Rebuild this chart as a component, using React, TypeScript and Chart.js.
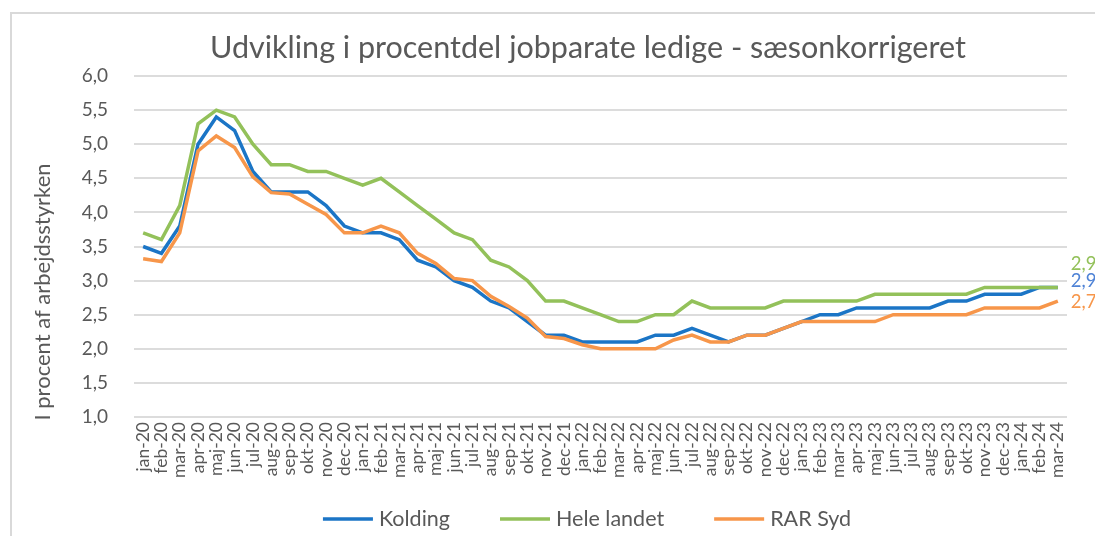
import React, { useEffect, useRef } from "react";
import { Chart, registerables } from "chart.js";

Chart.register(...registerables);

const months = [
  "jan-20", "feb-20", "mar-20", "apr-20", "maj-20", "jun-20", "jul-20", "aug-20", "sep-20", "okt-20", "nov-20", "dec-20",
  "jan-21", "feb-21", "mar-21", "apr-21", "maj-21", "jun-21", "jul-21", "aug-21", "sep-21", "okt-21", "nov-21", "dec-21",
  "jan-22", "feb-22", "mar-22", "apr-22", "maj-22", "jun-22", "jul-22", "aug-22", "sep-22", "okt-22", "nov-22", "dec-22",
  "jan-23", "feb-23", "mar-23", "apr-23", "maj-23", "jun-23", "jul-23", "aug-23", "sep-23", "okt-23", "nov-23", "dec-23",
  "jan-24", "feb-24", "mar-24",
];

const kolding = [
  3.5, 3.4, 3.8, 5.0, 5.4, 5.2, 4.6, 4.3, 4.3, 4.3, 4.1, 3.8,
  3.7, 3.7, 3.6, 3.3, 3.2, 3.0, 2.9, 2.7, 2.6, 2.4, 2.2, 2.2,
  2.1, 2.1, 2.1, 2.1, 2.2, 2.2, 2.3, 2.2, 2.1, 2.2, 2.2, 2.3,
  2.4, 2.5, 2.5, 2.6, 2.6, 2.6, 2.6, 2.6, 2.7, 2.7, 2.8, 2.8,
  2.8, 2.9, 2.9,
];

const heleLandet = [
  3.7, 3.6, 4.1, 5.3, 5.5, 5.4, 5.0, 4.7, 4.7, 4.6, 4.6, 4.5,
  4.4, 4.5, 4.3, 4.1, 3.9, 3.7, 3.6, 3.3, 3.2, 3.0, 2.7, 2.7,
  2.6, 2.5, 2.4, 2.4, 2.5, 2.5, 2.7, 2.6, 2.6, 2.6, 2.6, 2.7,
  2.7, 2.7, 2.7, 2.7, 2.8, 2.8, 2.8, 2.8, 2.8, 2.8, 2.9, 2.9,
  2.9, 2.9, 2.9,
];

const rarSyd = [
  3.32, 3.28, 3.7, 4.9, 5.12, 4.95, 4.52, 4.29, 4.27, 4.12, 3.97, 3.7,
  3.7, 3.8, 3.7, 3.4, 3.25, 3.03, 3.0, 2.77, 2.62, 2.45, 2.18, 2.15,
  2.06, 2.0, 2.0, 2.0, 2.0, 2.13, 2.2, 2.1, 2.1, 2.2, 2.2, 2.3,
  2.4, 2.4, 2.4, 2.4, 2.4, 2.5, 2.5, 2.5, 2.5, 2.5, 2.6, 2.6,
  2.6, 2.6, 2.7,
];

const seriesNames = ["Kolding", "Hele landet", "RAR Syd"];
const chartTitle = "Udvikling i procentdel jobparate ledige - sæsonkorrigeret";
const yAxisTitle = "I procent af arbejdsstyrken";
const yMin = 1.0;
const yMax = 6.0;
const yStep = 0.5;

const FONT = "Lato, 'Open Sans', sans-serif";
const TEXT = "#595959";
const lineColors = ["#1b75c6", "#93c15a", "#f7964a"];
const endLabelColors = ["#4f83d6", "#93c15a", "#f7964a"];
const endLabelDy = [-6, -23, 1];

const CANVAS_W = 1176;
const CANVAS_H = 536;

const fmt = (v: number) => v.toFixed(1).replace(".", ",");

const endLabelPlugin = {
  id: "endLabels",
  afterDatasetsDraw(chart: any) {
    const ctx = chart.ctx;
    ctx.save();
    ctx.font = `18.5px ${FONT}`;
    ctx.textAlign = "left";
    ctx.textBaseline = "middle";
    chart.data.datasets.forEach((ds: any, i: number) => {
      const meta = chart.getDatasetMeta(i);
      const last = meta.data[meta.data.length - 1];
      if (!last) return;
      ctx.fillStyle = endLabelColors[i];
      ctx.fillText(fmt(ds.data[ds.data.length - 1]), last.x + 13, last.y + endLabelDy[i]);
    });
    ctx.restore();
  },
};

const yTitlePlugin = {
  id: "yTitle",
  afterDraw(chart: any) {
    const ctx = chart.ctx;
    ctx.save();
    ctx.translate(43, 292);
    ctx.rotate(-Math.PI / 2);
    ctx.font = `22px ${FONT}`;
    ctx.fillStyle = TEXT;
    ctx.textAlign = "center";
    ctx.textBaseline = "middle";
    ctx.fillText(yAxisTitle, 0, 0);
    ctx.restore();
  },
};

const legendPlugin = {
  id: "bottomLegend",
  afterDraw(chart: any) {
    const ctx = chart.ctx;
    ctx.save();
    ctx.font = `21.5px ${FONT}`;
    ctx.textBaseline = "middle";
    ctx.textAlign = "left";
    const lineW = 50;
    const textGap = 6;
    const itemGap = 50;
    const widths = seriesNames.map((n) => ctx.measureText(n).width);
    const total = widths.reduce((a, w) => a + lineW + textGap + w, 0) + itemGap * (seriesNames.length - 1);
    let x = chart.width / 2 - 1 - total / 2;
    const y = 519;
    seriesNames.forEach((name, i) => {
      ctx.strokeStyle = lineColors[i];
      ctx.lineWidth = 3.5;
      ctx.beginPath();
      ctx.moveTo(x, y);
      ctx.lineTo(x + lineW, y);
      ctx.stroke();
      ctx.fillStyle = TEXT;
      ctx.fillText(name, x + lineW + textGap, y);
      x += lineW + textGap + widths[i] + itemGap;
    });
    ctx.restore();
  },
};

export default function App() {
  const ref = useRef<HTMLCanvasElement | null>(null);

  useEffect(() => {
    if (!ref.current) return;
    const datasets = [kolding, heleLandet, rarSyd].map((data, i) => ({
      label: seriesNames[i],
      data,
      borderColor: lineColors[i],
      backgroundColor: lineColors[i],
      borderWidth: 3.5,
      pointRadius: 0,
      pointHoverRadius: 0,
      tension: 0,
      fill: false,
      order: 3 - i,
      yAxisID: "y",
    }));
    const chart = new Chart(ref.current, {
      type: "line",
      data: { labels: months, datasets },
      plugins: [endLabelPlugin, yTitlePlugin, legendPlugin],
      options: {
        animation: false,
        responsive: false,
        maintainAspectRatio: false,
        layout: { padding: 0 },
        plugins: {
          tooltip: { enabled: false },
          legend: { display: false },
          title: {
            display: true,
            text: chartTitle,
            color: TEXT,
            font: { family: FONT, size: 30.5, weight: "normal" },
            padding: { top: 29.7, bottom: 9.7 },
          },
        },
        scales: {
          x: {
            type: "category",
            offset: true,
            grid: { display: false, drawTicks: false },
            border: { display: false },
            ticks: {
              autoSkip: false,
              minRotation: 90,
              maxRotation: 90,
              padding: 5,
              color: TEXT,
              font: { family: FONT, size: 17.5 },
            },
            afterFit(scale: any) {
              scale.height = CANVAS_H - 417;
            },
          },
          y: {
            position: "left",
            min: yMin,
            max: yMax,
            border: { display: false },
            grid: { color: "#dcdcdc", lineWidth: 2, drawTicks: false },
            ticks: {
              stepSize: yStep,
              padding: 26,
              color: TEXT,
              font: { family: FONT, size: 19 },
              callback: (v: any) => fmt(Number(v)),
            },
            afterFit(scale: any) {
              scale.width = 134;
            },
          },
          yRight: {
            position: "right",
            min: yMin,
            max: yMax,
            display: true,
            border: { display: false },
            grid: { display: false, drawTicks: false },
            ticks: { display: false },
            afterFit(scale: any) {
              scale.width = CANVAS_W - 1067;
            },
          },
        },
      },
    });
    return () => chart.destroy();
  }, []);

  return (
    <div style={{ position: "absolute", left: 0, top: 0, width: 1095, height: 536, overflow: "hidden", background: "#fff" }}>
      <div
        style={{
          position: "absolute",
          left: 10,
          top: 12,
          width: 1200,
          height: 600,
          borderLeft: "2px solid #d9d9d9",
          borderTop: "2px solid #d9d9d9",
        }}
      />
      <canvas
        ref={ref}
        width={CANVAS_W}
        height={CANVAS_H}
        style={{ position: "absolute", left: 0, top: 0, width: CANVAS_W, height: CANVAS_H }}
      />
    </div>
  );
}
